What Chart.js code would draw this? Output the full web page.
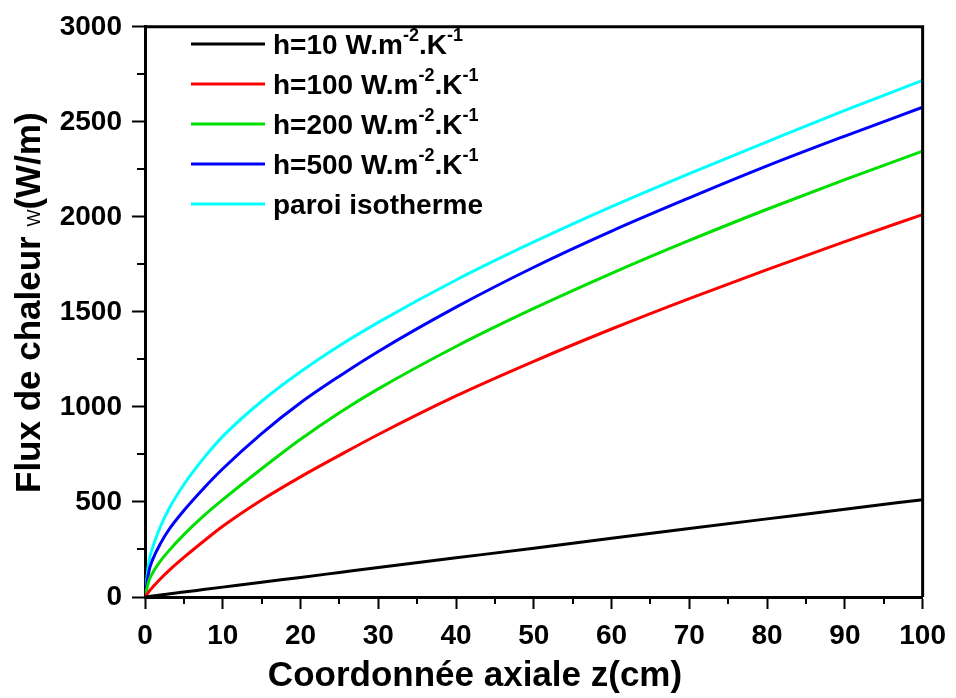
<!DOCTYPE html>
<html>
<head>
<meta charset="utf-8">
<script src="https://cdn.jsdelivr.net/npm/chart.js@4.4.1/dist/chart.umd.min.js"></script>
<style>
  html, body { margin: 0; padding: 0; background: #fff; }
  #wrap { width: 956px; height: 698px; position: relative; }
</style>
</head>
<body>
<div id="wrap"><canvas id="flux-chart" width="956" height="698"></canvas></div>
<script>
// axial coordinate z (cm)
const zValues = [0, 0.5, 1, 2, 3, 5, 7.5, 10, 15, 20, 25, 30, 40, 50, 60, 70, 80, 90, 100];
// heat flux (W/m)
const fluxH10 = [0, 3, 5, 10, 16, 26, 39, 52, 78, 103, 129, 155, 206, 257, 309, 360, 411, 462, 512];
const fluxH100 = [0, 28, 52, 96, 136, 208, 292, 372, 510, 632, 745, 855, 1058, 1240, 1410, 1570, 1722, 1870, 2012];
const fluxH200 = [0, 85, 128, 190, 240, 328, 425, 512, 675, 830, 970, 1095, 1318, 1518, 1703, 1876, 2040, 2196, 2346];
const fluxH500 = [0, 135, 198, 282, 350, 455, 570, 675, 860, 1022, 1162, 1292, 1525, 1735, 1925, 2100, 2268, 2425, 2577];
const fluxIso = [0, 185, 262, 372, 458, 592, 728, 845, 1030, 1185, 1322, 1445, 1668, 1868, 2054, 2228, 2395, 2560, 2718];

// legend labels, {..} = superscript
const seriesLabels = [
  "h=10 W.m{-2}.K{-1}",
  "h=100 W.m{-2}.K{-1}",
  "h=200 W.m{-2}.K{-1}",
  "h=500 W.m{-2}.K{-1}",
  "paroi isotherme",
];
const seriesColors = ["#000000", "#FF0000", "#00E000", "#0000FF", "#00FFFF"];

const xTickStep = 10;
const yTickStep = 500;
const xMinorTicks = [5, 15, 25, 35, 45, 55, 65, 75, 85, 95];
const yMinorTicks = [250, 750, 1250, 1750, 2250, 2750];

const FONT = "'Liberation Sans', Arial, Helvetica, sans-serif";
Chart.defaults.font.family = FONT;
Chart.defaults.color = "#000";

const toPoints = (vals) => zValues.map((z, i) => ({ x: z, y: vals[i] }));

const allSeries = [fluxH10, fluxH100, fluxH200, fluxH500, fluxIso];

const extrasPlugin = {
  id: "extras",
  afterDraw(chart) {
    const ctx = chart.ctx;
    const a = chart.chartArea;
    const xs = chart.scales.x;
    const ys = chart.scales.y;
    ctx.save();

    // minor ticks
    ctx.strokeStyle = "#000";
    ctx.lineWidth = 2;
    ctx.beginPath();
    xMinorTicks.forEach((v) => {
      const px = Math.round(xs.getPixelForValue(v));
      ctx.moveTo(px, a.bottom);
      ctx.lineTo(px, a.bottom + 7);
    });
    yMinorTicks.forEach((v) => {
      const py = Math.round(ys.getPixelForValue(v));
      ctx.moveTo(a.left, py);
      ctx.lineTo(a.left - 8, py);
    });
    ctx.stroke();

    // top and right frame
    ctx.lineWidth = 3;
    ctx.beginPath();
    ctx.moveTo(a.left, a.top);
    ctx.lineTo(a.right, a.top);
    ctx.lineTo(a.right, a.bottom);
    ctx.stroke();

    // legend
    chart.data.datasets.forEach((ds, i) => {
      const y = 44 + i * 40;
      ctx.strokeStyle = ds.borderColor;
      ctx.lineWidth = 3;
      ctx.beginPath();
      ctx.moveTo(191, y);
      ctx.lineTo(265, y);
      ctx.stroke();
      let x = 273;
      const base = y + 10;
      ctx.fillStyle = "#000";
      ctx.textBaseline = "alphabetic";
      ctx.textAlign = "left";
      seriesLabels[i].split(/(\{[^}]*\})/).forEach((part) => {
        if (!part) return;
        if (part[0] === "{") {
          ctx.font = "bold 18px " + FONT;
          const t = part.slice(1, -1);
          ctx.fillText(t, x, base - 13);
          x += ctx.measureText(t).width;
        } else {
          ctx.font = "bold 28px " + FONT;
          ctx.fillText(part, x, base);
          x += ctx.measureText(part).width;
        }
      });
    });

    // x title
    ctx.fillStyle = "#000";
    ctx.font = "bold 35px " + FONT;
    ctx.textAlign = "center";
    ctx.textBaseline = "alphabetic";
    ctx.fillText("Coordonnée axiale z(cm)", 475, 686);

    // y title (rotated), with the small W symbol
    ctx.translate(40, 493);
    ctx.rotate(-Math.PI / 2);
    ctx.textAlign = "left";
    let tx = 0;
    ctx.font = "bold 35px " + FONT;
    ctx.fillText("Flux de chaleur ", tx, 0);
    tx += ctx.measureText("Flux de chaleur ").width;
    ctx.font = "18px " + FONT;
    ctx.fillText("W", tx, 0);
    tx += ctx.measureText("W").width;
    ctx.font = "bold 35px " + FONT;
    ctx.fillText("(W/m)", tx, 0);
    ctx.restore();
  },
};

const ctx = document.getElementById("flux-chart").getContext("2d");
var fluxChart = new Chart(ctx, {
  type: "line",
  data: {
    datasets: allSeries.map((vals, i) => ({
      label: seriesLabels[i],
      data: toPoints(vals),
      borderColor: seriesColors[i],
      backgroundColor: seriesColors[i],
      borderWidth: 3,
      pointRadius: 0,
      fill: false,
      cubicInterpolationMode: "monotone",
    })),
  },
  options: {
    responsive: false,
    animation: false,
    events: [],
    layout: { padding: { top: 23, right: 32, left: 0, bottom: 0 } },
    plugins: {
      legend: { display: false },
      tooltip: { enabled: false },
    },
    scales: {
      x: {
        type: "linear",
        min: 0,
        max: 100,
        afterFit: function (scale) {
          scale.height = 101;
        },
        border: { display: true, color: "#000", width: 3 },
        grid: {
          drawOnChartArea: false,
          drawTicks: true,
          tickLength: 12,
          tickWidth: 2,
          tickColor: "#000",
        },
        ticks: {
          stepSize: xTickStep,
          padding: 10,
          maxRotation: 0,
          color: "#000",
          font: { size: 28, weight: "bold" },
          callback: (v) => String(v),
        },
      },
      y: {
        min: 0,
        max: 3000,
        afterFit: function (scale) {
          scale.width = 145;
        },
        border: { display: true, color: "#000", width: 3 },
        grid: {
          drawOnChartArea: false,
          drawTicks: true,
          tickLength: 13,
          tickWidth: 2,
          tickColor: "#000",
        },
        ticks: {
          stepSize: yTickStep,
          padding: 10,
          color: "#000",
          font: { size: 28, weight: "bold" },
          callback: (v) => String(v),
        },
      },
    },
  },
  plugins: [extrasPlugin],
});
</script>
</body>
</html>
